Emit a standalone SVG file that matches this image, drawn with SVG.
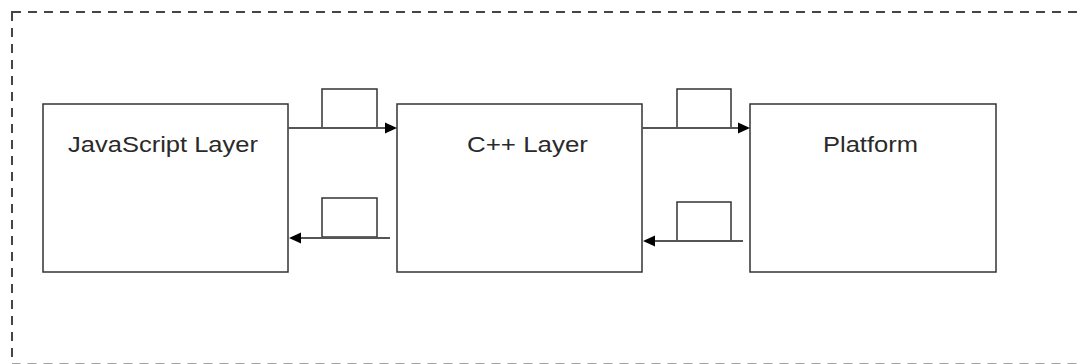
<svg xmlns="http://www.w3.org/2000/svg" width="1081" height="364" viewBox="0 0 1081 364">
<defs>
<style>
.frame{fill:none;stroke:#444;stroke-width:2;stroke-dasharray:9 7}
.box{fill:#fff;stroke:#333;stroke-width:1.5}
.tag{fill:#fff;stroke:#333;stroke-width:1.5}
.lbl{font-family:"Liberation Sans",Arial,sans-serif;font-size:22px;fill:#2a2a2a}
.conn{stroke:#555;stroke-width:2;fill:none}
.tri{fill:#000}
</style>
</defs>
<rect class="frame" x="12" y="12" width="1076" height="352.5"/>
<g id="js-layer">
<rect class="box" x="43" y="104" width="245" height="168"/>
<text class="lbl" x="68" y="152" textLength="190" lengthAdjust="spacingAndGlyphs">JavaScript Layer</text>
</g>
<g id="cpp-layer">
<rect class="box" x="397" y="104" width="245" height="168"/>
<text class="lbl" x="467" y="152" textLength="121" lengthAdjust="spacingAndGlyphs">C++ Layer</text>
</g>
<g id="platform">
<rect class="box" x="750" y="104" width="246" height="168"/>
<text class="lbl" x="823" y="152" textLength="95" lengthAdjust="spacingAndGlyphs">Platform</text>
</g>
<g id="connectors">
<rect class="tag" x="322" y="89" width="55" height="39"/>
<line class="conn" x1="288" y1="128" x2="386" y2="128"/>
<polygon class="tri" points="397,128 385,122.5 385,133.5"/>
<rect class="tag" x="322" y="198" width="55" height="39"/>
<line class="conn" x1="390" y1="238" x2="300" y2="238"/>
<polygon class="tri" points="289,238 301,232.5 301,243.5"/>
<rect class="tag" x="677" y="89" width="54" height="39"/>
<line class="conn" x1="642" y1="128" x2="739" y2="128"/>
<polygon class="tri" points="750,128 738,122.5 738,133.5"/>
<rect class="tag" x="677" y="202" width="54" height="39"/>
<line class="conn" x1="743" y1="241" x2="654" y2="241"/>
<polygon class="tri" points="643,241 655,235.5 655,246.5"/>
</g>
</svg>
